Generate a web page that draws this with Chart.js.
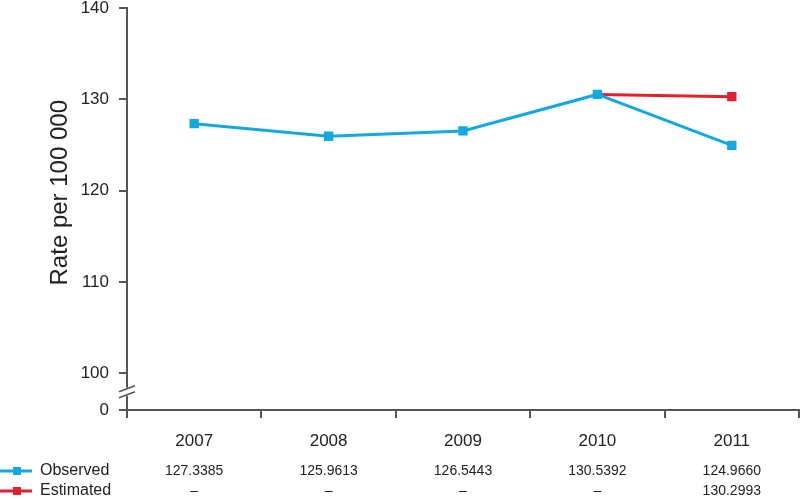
<!DOCTYPE html>
<html lang="en">
<head>
    <meta charset="UTF-8">
    <title>Rate per 100 000</title>
    <script src="https://cdn.jsdelivr.net/npm/chart.js"></script>
    <style>
        body { margin: 0; background: white; }
        #wrap { width: 800px; height: 499px; }
    </style>
</head>
<body>
    <div id="wrap"><canvas id="chart1"></canvas></div>

    <script>
        const years = ['2007', '2008', '2009', '2010', '2011'];
        const observed = [127.3385, 125.9613, 126.5443, 130.5392, 124.9660];
        const estimated = [null, null, null, 130.5392, 130.2993];
        const observedText = ['127.3385', '125.9613', '126.5443', '130.5392', '124.9660'];
        const estimatedText = ['\u2013', '\u2013', '\u2013', '\u2013', '130.2993'];
        const yTicks = [96, 100, 110, 120, 130, 140];

        const BLUE = '#12a8e2';
        const RED = '#e5202e';
        const AXIS = '#555555';
        const FONT = '"Liberation Sans", Arial, sans-serif';

        // table under the axis, axis break and the y title
        const extras = {
            id: 'extras',
            afterDraw(chart) {
                const ctx = chart.ctx;
                const xs = chart.scales.x;
                const ys = chart.scales.y;
                const axisX = chart.chartArea.left;
                const yb = ys.getPixelForValue(98);

                ctx.save();
                // break in the y axis
                ctx.fillStyle = 'white';
                ctx.fillRect(axisX - 3, yb - 4, 6, 8);
                ctx.strokeStyle = AXIS;
                ctx.lineWidth = 1.5;
                [-3, 3].forEach(d => {
                    ctx.beginPath();
                    ctx.moveTo(axisX - 8, yb + d + 3);
                    ctx.lineTo(axisX + 8, yb + d - 3);
                    ctx.stroke();
                });

                // y title
                ctx.fillStyle = '#222';
                ctx.font = '24px ' + FONT;
                ctx.textAlign = 'center';
                ctx.textBaseline = 'middle';
                ctx.translate(60, (ys.getPixelForValue(140) + ys.getPixelForValue(100)) / 2 + 2);
                ctx.rotate(-Math.PI / 2);
                ctx.fillText('Rate per 100 000', 0, 0);
                ctx.restore();

                // data table
                const rows = [
                    { label: 'Observed', color: BLUE, text: observedText, y: 471 },
                    { label: 'Estimated', color: RED, text: estimatedText, y: 491 }
                ];
                ctx.save();
                rows.forEach(r => {
                    ctx.strokeStyle = r.color;
                    ctx.lineWidth = 3;
                    ctx.beginPath();
                    ctx.moveTo(0, r.y);
                    ctx.lineTo(32, r.y);
                    ctx.stroke();
                    ctx.fillStyle = r.color;
                    ctx.fillRect(13, r.y - 4, 8, 8);

                    ctx.fillStyle = '#222';
                    ctx.textBaseline = 'middle';
                    ctx.textAlign = 'left';
                    ctx.font = '16px ' + FONT;
                    ctx.fillText(r.label, 40, r.y);
                    ctx.textAlign = 'center';
                    ctx.font = '14px ' + FONT;
                    r.text.forEach((t, i) => {
                        ctx.fillText(t, xs.getPixelForValue(i), r.y);
                    });
                });
                ctx.restore();
            }
        };

        const ctx = document.getElementById('chart1').getContext('2d');
        const chart1 = new Chart(ctx, {
            type: 'line',
            data: {
                labels: years,
                datasets: [
                    {
                        label: 'Observed',
                        data: observed,
                        borderColor: BLUE,
                        backgroundColor: BLUE,
                        borderWidth: 3,
                        pointStyle: 'rect',
                        pointRadius: 4.5,
                        tension: 0,
                        clip: false,
                        order: 1
                    },
                    {
                        label: 'Estimated',
                        data: estimated,
                        borderColor: RED,
                        backgroundColor: RED,
                        borderWidth: 3,
                        pointStyle: 'rect',
                        pointRadius: [0, 0, 0, 0, 4.5],
                        tension: 0,
                        clip: false,
                        order: 2
                    }
                ]
            },
            options: {
                responsive: true,
                maintainAspectRatio: false,
                animation: false,
                layout: {
                    autoPadding: false,
                    padding: { top: 8, right: 1, left: 0, bottom: 0 }
                },
                plugins: {
                    legend: { display: false },
                    tooltip: { enabled: false }
                },
                scales: {
                    x: {
                        offset: true,
                        grid: {
                            offset: true,
                            drawOnChartArea: false,
                            drawTicks: true,
                            tickLength: 8,
                            color: AXIS,
                            lineWidth: 2
                        },
                        border: { color: AXIS, width: 2 },
                        ticks: {
                            color: '#222',
                            padding: 13,
                            font: { family: FONT, size: 17 }
                        },
                        afterFit(scale) {
                            scale.height = 89;
                            scale.paddingLeft = 0;
                            scale.paddingRight = 0;
                        }
                    },
                    y: {
                        min: 96,
                        max: 140,
                        afterBuildTicks(scale) {
                            scale.ticks = yTicks.map(v => ({ value: v }));
                        },
                        grid: {
                            drawOnChartArea: false,
                            drawTicks: true,
                            tickLength: 8,
                            color: AXIS,
                            lineWidth: 2
                        },
                        border: { color: AXIS, width: 2 },
                        ticks: {
                            color: '#222',
                            padding: 10,
                            font: { family: FONT, size: 17 },
                            callback: v => (v === 96 ? '0' : v)
                        },
                        afterFit(scale) {
                            scale.width = 127;
                            scale.paddingTop = 0;
                            scale.paddingBottom = 0;
                        }
                    }
                }
            },
            plugins: [extras]
        });
    </script>
</body>
</html>
